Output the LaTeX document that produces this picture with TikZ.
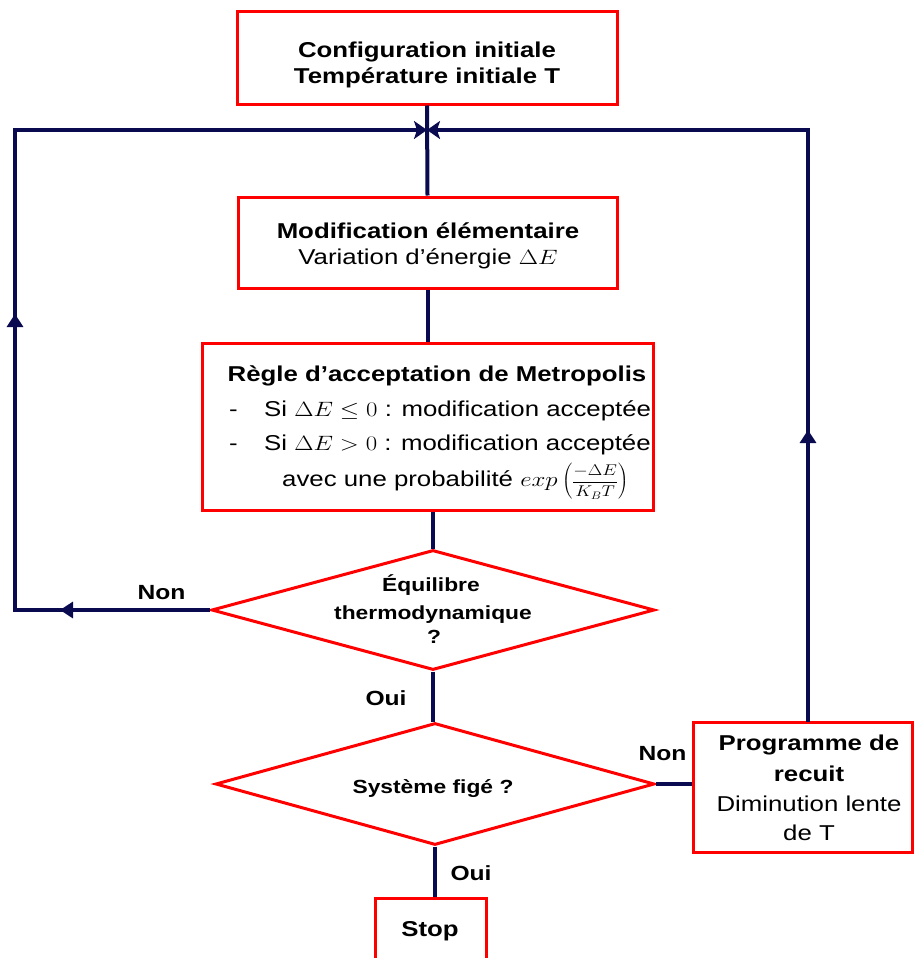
\documentclass[tikz,border=0pt]{standalone}
\usepackage{fontspec}
\setmainfont{Liberation Sans}[FakeStretch=1.2]
\usepackage{graphicx}
\usetikzlibrary{arrows.meta,shapes.geometric,decorations.markings}
\definecolor{navy}{RGB}{10,10,80}
\definecolor{bred}{RGB}{255,0,0}
\newcommand\mth[1]{\scalebox{1.2}[1]{$#1$}}
\begin{document}
\begin{tikzpicture}[x=1pt,y=-1pt,
  box/.style={draw=bred, line width=3pt, fill=white, inner sep=0pt},
  dia/.style={diamond, draw=bred, line width=3pt, fill=white, inner sep=0pt},
  conn/.style={draw=navy, line width=4pt, line join=miter},
  tx/.style={inner sep=0pt, anchor=base, font=\fontsize{21.5}{26}\selectfont},
  tb/.style={inner sep=0pt, anchor=base, font=\fontsize{21.5}{26}\selectfont\bfseries},
  td/.style={inner sep=0pt, anchor=base, font=\fontsize{19}{24}\selectfont\bfseries},
  tl/.style={inner sep=0pt, anchor=base, font=\fontsize{20.5}{24}\selectfont\bfseries},
  jtip/.style={-{Stealth[length=13pt,width=18pt,inset=3pt]}}
]
\useasboundingbox (0,0) rectangle (914,958);

% boxes
\node[box, minimum width=380pt, minimum height=92pt] (top) at (427,58) {};
\node[box, minimum width=379pt, minimum height=91pt] (mod) at (427.5,242.5) {};
\node[box, minimum width=451pt, minimum height=167pt] (metro) at (427.5,426.5) {};
\node[dia, minimum width=443pt, minimum height=120pt] (eq) at (433,610) {};
\node[dia, minimum width=439pt, minimum height=122pt] (sys) at (435,784) {};
\node[box, minimum width=219pt, minimum height=130pt] (prog) at (802.5,787) {};
\node[box, minimum width=111pt, minimum height=80pt] (stop) at (430.5,938) {};

% coordinates of the loops
\coordinate (J) at (427,130);
\coordinate (Lt) at (15,130);
\coordinate (Lb) at (15,610);
\coordinate (Rt) at (808,130);
\coordinate (Rb) at (808,722);

% connectors
\draw[conn] (top.south) -- (mod.north);
\draw[conn] (mod.south) -- (metro.north);
\draw[conn] (eq.north |- metro.south) -- (eq.north);
\draw[conn] (eq.south) -- (eq.south |- sys.north);
\draw[conn] (sys.south) -- (sys.south |- stop.north);
\draw[conn] (sys.east) -- (sys.east -| prog.west);
\draw[conn, jtip, postaction={decorate}, decoration={markings,
    mark=at position 150pt with {\arrow[color=navy]{Triangle[length=13pt,width=16pt]}},
    mark=at position 491pt with {\arrow[color=navy]{Triangle[length=13pt,width=16pt]}}}]
  (eq.west) -- (Lb) -- (Lt) -- (J);
\draw[conn, jtip, postaction={decorate}, decoration={markings,
    mark=at position 292pt with {\arrow[color=navy]{Triangle[length=13pt,width=16pt]}}}]
  (Rb) -- (Rt) -- (J);

% texts
\node[tb] (t1) at (427,57) {Configuration initiale};
\node[tb] (t2) at (427,83) {Température initiale T};
\node[tb] (m1) at (428,238.5) {Modification élémentaire};
\node[tx] (m2) at (428,264.5) {Variation d’énergie \mth{\Delta E}};
\node[tb] (r1) at (437,381) {Règle d’acceptation de Metropolis};
\node[tx, anchor=base west] (r2a) at (229,416) {-};
\node[tx, anchor=base west] (r2) at (264,416) {Si \mth{\Delta E \leq 0} : modification acceptée};
\node[tx, anchor=base west] (r3a) at (229,450) {-};
\node[tx, anchor=base west] (r3) at (264,450) {Si \mth{\Delta E > 0} : modification acceptée};
\node[tx, anchor=base west] (r4) at (282,486) {avec une probabilité \mth{exp\left(\scalebox{0.75}{$\displaystyle\frac{-\Delta E}{K_BT}$}\right)}};
\node[td] (e1) at (431,591.5) {Équilibre};
\node[td] (e2) at (433,619.5) {thermodynamique};
\node[td] (e3) at (434,643.5) {?};
\node[td] (s1) at (433,793) {Système figé ?};
\node[tb] (p1) at (809,750) {Programme de};
\node[tb] (p2) at (809,781.5) {recuit};
\node[tx] (p3) at (809,811.5) {Diminution lente};
\node[tx] (p4) at (809,840) {de T};
\node[tb] (st) at (430,936.5) {Stop};
\node[tl] (n1) at (161.5,599.5) {Non};
\node[tl] (o1) at (386,705) {Oui};
\node[tl] (n2) at (662.5,760.5) {Non};
\node[tl] (o2) at (471,880) {Oui};
\end{tikzpicture}
\end{document}
